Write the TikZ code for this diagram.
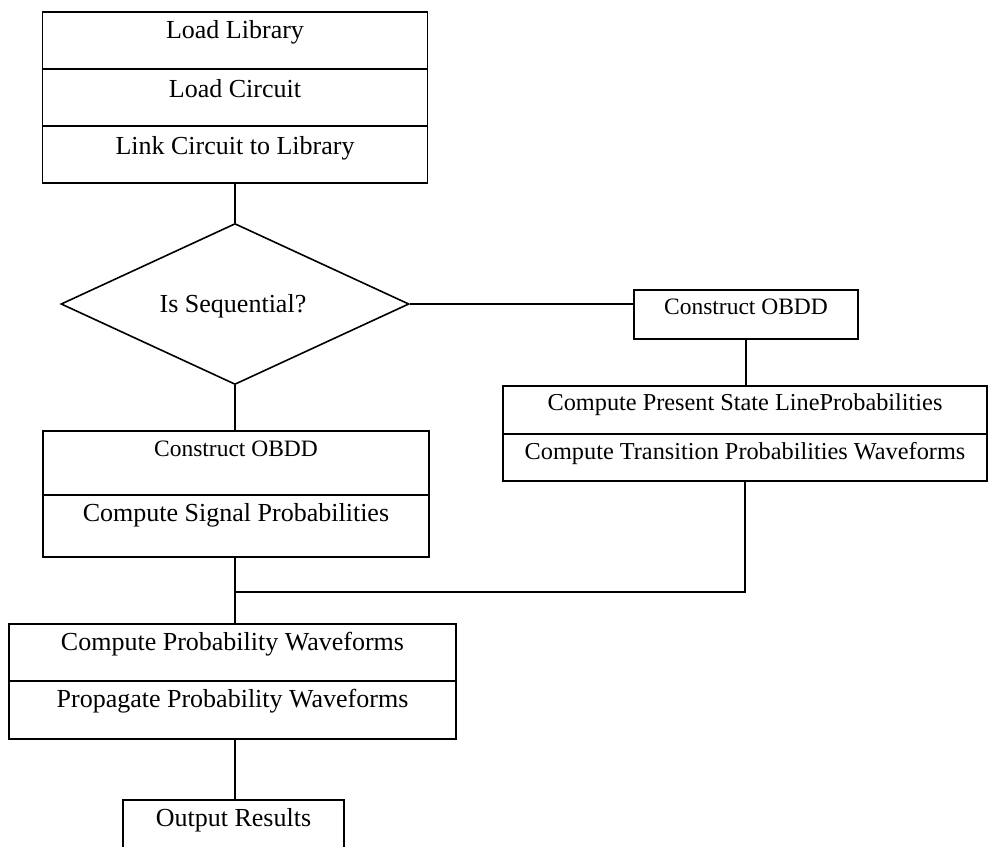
\documentclass[tikz,border=0pt]{standalone}
\usepackage{fontspec}
\setmainfont{Liberation Serif}
\usetikzlibrary{shapes.geometric}
\begin{document}
\begin{tikzpicture}[x=1pt,y=-1pt,
  box/.style={draw, line width=1.6pt, inner sep=0pt, rectangle},
  lbl/.style={anchor=base, inner sep=0pt, font=\fontsize{26}{30}\selectfont},
  slbl/.style={anchor=base, inner sep=0pt, font=\fontsize{23.5}{28}\selectfont},
  mlbl/.style={anchor=base, inner sep=0pt, font=\fontsize{24.3}{29}\selectfont},
  conn/.style={line width=1.6pt},
  divider/.style={line width=1.6pt}]
\useasboundingbox (0,0) rectangle (990,846);

% top box
\node[box, minimum width=385pt, minimum height=171pt] (top) at (235,97.5) {};
\draw[divider] (top.west |- 0,69) -- (top.east |- 0,69);
\draw[divider] (top.west |- 0,126) -- (top.east |- 0,126);
\node[lbl] (t1) at (235,38) {Load Library};
\node[lbl] (t2) at (235,97) {Load Circuit};
\node[lbl] (t3) at (235,154) {Link Circuit to Library};

% diamond
\node[diamond, draw, line width=1.6pt, inner sep=0pt, aspect=2.16,
      minimum width=348pt, minimum height=161pt] (dia) at (235,304) {};
\node[lbl] (dtext) at (233,312) {Is Sequential?};

% lower-left box
\node[box, minimum width=386pt, minimum height=126pt] (ll) at (236,494) {};
\draw[divider] (ll.west |- 0,495) -- (ll.east |- 0,495);
\node[slbl] (l1) at (236,456) {Construct OBDD};
\node[lbl] (l2) at (236,521) {Compute Signal Probabilities};

% right construct box
\node[box, minimum width=224pt, minimum height=49pt] (rc) at (746,314.5) {};
\node[slbl] (r0) at (746,314) {Construct OBDD};

% right big box
\node[box, minimum width=484pt, minimum height=95pt] (rb) at (745,433.5) {};
\draw[divider] (rb.west |- 0,434) -- (rb.east |- 0,434);
\node[mlbl] (r1) at (745,410) {Compute Present State LineProbabilities};
\node[mlbl] (r2) at (745,459) {Compute Transition Probabilities Waveforms};

% probability waveform box
\node[box, minimum width=447pt, minimum height=115pt] (pw) at (232.5,681.5) {};
\draw[divider] (pw.west |- 0,681) -- (pw.east |- 0,681);
\node[lbl] (p1) at (232.5,650) {Compute Probability Waveforms};
\node[lbl] (p2) at (232.5,707) {Propagate Probability Waveforms};

% output box
\node[box, minimum width=221pt, minimum height=70pt] (out) at (233.5,835) {};
\node[lbl] (o1) at (233.5,826) {Output Results};

% connectors
\coordinate (j) at (235,592);
\draw[conn] (top.south) -- (dia.north);
\draw[conn] (dia.east) -- (dia.east -| rc.west);
\draw[conn] (dia.south) -- (dia.south |- ll.north);
\draw[conn] (rc.south) -- (rc.south |- rb.north);
\draw[conn] (ll.south -| j) -- (pw.north -| j);
\draw[conn] (rb.south) |- (j);
\draw[conn] (pw.south -| j) -- (out.north -| j);
\end{tikzpicture}
\end{document}
